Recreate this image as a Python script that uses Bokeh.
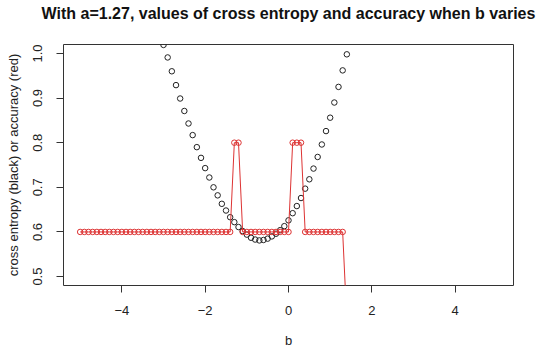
from bokeh.plotting import figure
from bokeh.embed import file_html
from bokeh.resources import INLINE
from bokeh.models import Range1d, FixedTicker, Title

# b grid (step 0.1)
b_black = [-3.0, -2.9, -2.8, -2.7, -2.6, -2.5, -2.4, -2.3, -2.2, -2.1, -2.0,
           -1.9, -1.8, -1.7, -1.6, -1.5, -1.4, -1.3, -1.2, -1.1, -1.0,
           -0.9, -0.8, -0.7, -0.6, -0.5, -0.4, -0.3, -0.2, -0.1, 0.0,
           0.1, 0.2, 0.3, 0.4, 0.5, 0.6, 0.7, 0.8, 0.9, 1.0,
           1.1, 1.2, 1.3, 1.4]
cross_entropy = [1.019, 0.991, 0.960, 0.929, 0.899, 0.871, 0.843, 0.817, 0.790, 0.766, 0.743,
                 0.722, 0.700, 0.682, 0.663, 0.648, 0.633, 0.622, 0.611, 0.602, 0.594,
                 0.587, 0.583, 0.581, 0.582, 0.585, 0.590, 0.596, 0.604, 0.613, 0.626,
                 0.642, 0.658, 0.676, 0.697, 0.718, 0.742, 0.768, 0.796, 0.826, 0.856,
                 0.890, 0.925, 0.962, 0.998]

b_red = [-5.0, -4.9, -4.8, -4.7, -4.6, -4.5, -4.4, -4.3, -4.2, -4.1,
         -4.0, -3.9, -3.8, -3.7, -3.6, -3.5, -3.4, -3.3, -3.2, -3.1,
         -3.0, -2.9, -2.8, -2.7, -2.6, -2.5, -2.4, -2.3, -2.2, -2.1,
         -2.0, -1.9, -1.8, -1.7, -1.6, -1.5, -1.4, -1.3, -1.2, -1.1,
         -1.0, -0.9, -0.8, -0.7, -0.6, -0.5, -0.4, -0.3, -0.2, -0.1,
         0.0, 0.1, 0.2, 0.3, 0.4, 0.5, 0.6, 0.7, 0.8, 0.9,
         1.0, 1.1, 1.2, 1.3, 1.4]
accuracy = [0.6] * 37 + [0.8, 0.8] + [0.6] * 12 + [0.8, 0.8, 0.8] + [0.6] * 10 + [0.4]

x_ticks = [-4, -2, 0, 2, 4]
y_ticks = [0.5, 0.6, 0.7, 0.8, 0.9, 1.0]
title_text = "With a=1.27, values of cross entropy and accuracy when b varies"

p = figure(width=540, height=358, output_backend="svg", toolbar_location=None,
           x_range=Range1d(-5.4, 5.4), y_range=Range1d(0.48, 1.02),
           min_border_left=63, min_border_right=27, min_border_top=44, min_border_bottom=73)
p.background_fill_color = "white"
p.border_fill_color = "white"
p.outline_line_color = "#333333"
p.outline_line_width = 1
p.xgrid.visible = False
p.ygrid.visible = False

# invisible spacer between frame and title (keeps the title near the top edge)
spacer = Title(text=" ", text_font="Liberation Sans", text_font_size="10px",
               text_color="white", standoff=10)
p.add_layout(spacer, "above")
t = Title(text=title_text, align="center", vertical_align="bottom",
          text_font="Liberation Sans", text_font_size="16px",
          text_font_style="bold", text_color="#111111", offset=0, standoff=0)
p.add_layout(t, "above")

for ax in (p.xaxis[0], p.yaxis[0]):
    ax.axis_line_color = None
    ax.major_tick_line_color = "#333333"
    ax.major_tick_out = 7
    ax.major_tick_in = 0
    ax.minor_tick_line_color = None
    ax.major_label_text_font = "Liberation Sans"
    ax.major_label_text_font_size = "13px"
    ax.major_label_text_color = "#222222"
    ax.axis_label_text_font = "Liberation Sans"
    ax.axis_label_text_font_size = "13px"
    ax.axis_label_text_font_style = "normal"
    ax.axis_label_text_color = "#222222"

p.xaxis.ticker = FixedTicker(ticks=x_ticks)
p.yaxis.ticker = FixedTicker(ticks=y_ticks)
p.yaxis.major_label_overrides = {v: f"{v:.1f}" for v in y_ticks}
p.yaxis.major_label_orientation = "vertical"
p.xaxis.axis_label = "b"
p.yaxis.axis_label = "cross entropy (black) or accuracy (red)"
p.xaxis.major_label_standoff = 13
p.xaxis.axis_label_standoff = 15
p.yaxis.major_label_standoff = 14
p.yaxis.axis_label_standoff = 10

p.scatter(b_black, cross_entropy, size=5.5, marker="circle", fill_color=None,
          line_color="#222222", line_width=1)
p.line(b_red, accuracy, line_color="#dd3333", line_width=1)
p.scatter(b_red, accuracy, size=5.5, marker="circle", fill_color=None,
          line_color="#dd3333", line_width=1)

open("out.html", "w").write(file_html(p, INLINE))
